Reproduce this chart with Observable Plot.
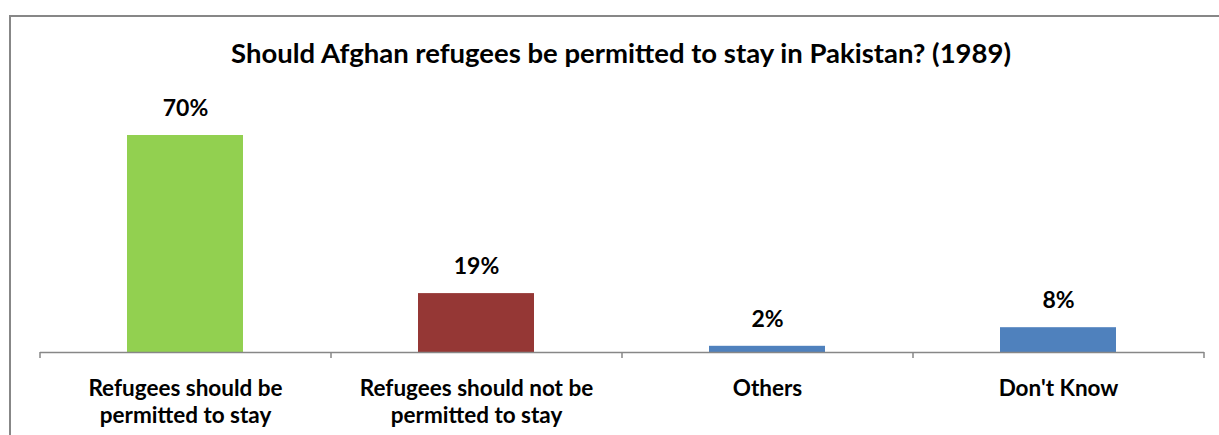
<!DOCTYPE html>
<html><head><meta charset="utf-8">
<script src="https://cdn.jsdelivr.net/npm/d3@7"></script>
<script src="https://cdn.jsdelivr.net/npm/@observablehq/plot@0.6"></script>
<style>
html,body{margin:0;padding:0;background:#fff;overflow:hidden;width:1219px;height:435px;position:relative}
#frame{position:absolute;left:9px;top:15px;width:1400px;height:600px;border-left:2px solid #878787;border-top:2px solid #878787;box-sizing:border-box}
#title{position:absolute;left:0;top:37px;width:1242px;text-align:center;font-family:Lato,sans-serif;font-weight:bold;font-size:27.5px;line-height:32px;color:#000}
#chart{position:absolute;left:0;top:85px}
</style>
</head><body>
<div id="frame"></div>
<div id="title">Should Afghan refugees be permitted to stay in Pakistan? (1989)</div>
<div id="chart"></div>
<script>
const categories = ["Refugees should be permitted to stay", "Refugees should not be permitted to stay", "Others", "Don't Know"];
const tickLabels = ["Refugees should be\npermitted to stay", "Refugees should not be\npermitted to stay", "Others", "Don't Know"];
const values = [70, 19, 2, 8];
const barColors = ["#92D050", "#953735", "#4F81BD", "#4F81BD"];

const data = categories.map((c, i) => ({category: c, value: values[i], label: tickLabels[i]}));

const width = 1219, height = 350, marginLeft = 40, marginRight = 15, marginTop = 50, marginBottom = 83;
const step = (width - marginLeft - marginRight) / categories.length;

const chart = Plot.plot({
  width, height, marginLeft, marginRight, marginTop, marginBottom,
  style: {fontFamily: "Lato, sans-serif", background: "transparent", overflow: "visible"},
  x: {type: "band", domain: categories, paddingInner: 0.6, paddingOuter: 0.3, axis: null},
  y: {domain: [0, 70], axis: null},
  color: {domain: categories, range: barColors},
  marks: [
    Plot.barY(data, {x: "category", y: "value", fill: "category"}),
    Plot.ruleY([0], {stroke: "#878787", strokeWidth: 1.5}),
    Plot.ruleX(categories, {x: d => d, dx: -step / 2, y1: 0, y2: 0, insetBottom: -6, stroke: "#878787", strokeWidth: 1.5}),
    Plot.ruleX(categories.slice(-1), {x: d => d, dx: step / 2, y1: 0, y2: 0, insetBottom: -6, stroke: "#878787", strokeWidth: 1.5}),
    Plot.text(data, {x: "category", y: "value", text: d => d.value + "%", dy: -27, fontSize: 23, fontWeight: "bold", fill: "#000"}),
    Plot.text(data, {x: "category", text: "label", frameAnchor: "bottom", lineAnchor: "top", dy: 24, lineHeight: 1.2, fontSize: 22.5, fontWeight: "bold", fill: "#000"})
  ]
});
document.getElementById("chart").appendChild(chart);
</script>
</body></html>
